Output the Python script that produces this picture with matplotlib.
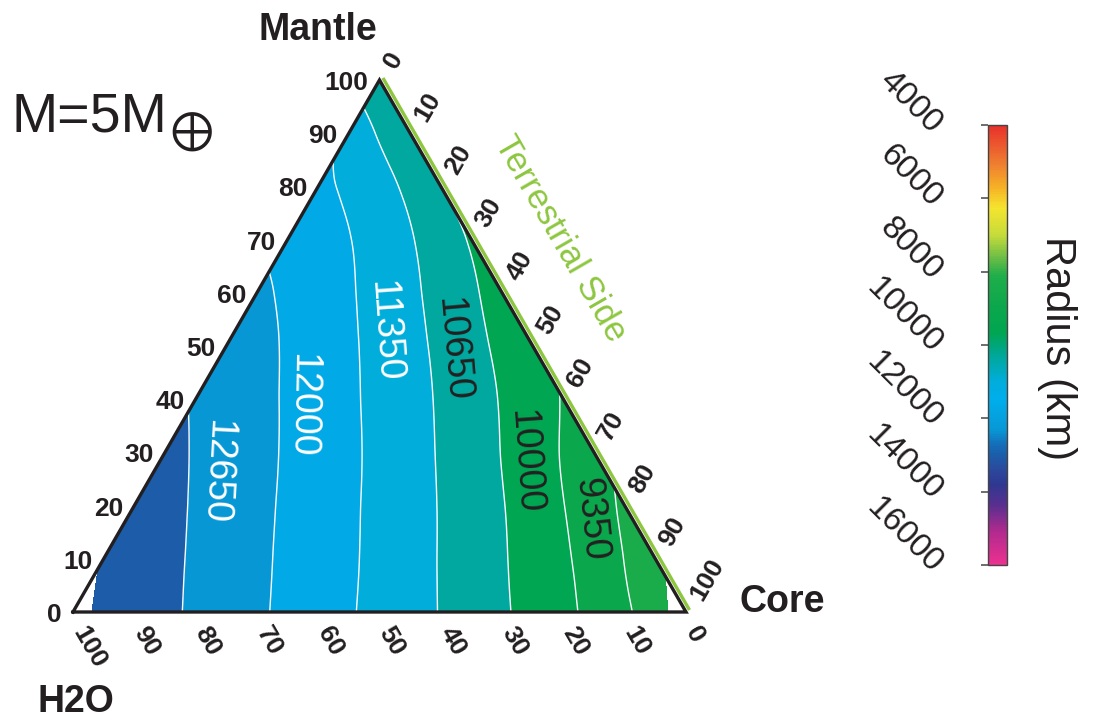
import numpy as np
import matplotlib
matplotlib.use("Agg")
import matplotlib.pyplot as plt
import matplotlib.tri as mtri
from matplotlib.colors import LinearSegmentedColormap, Normalize
from matplotlib.cm import ScalarMappable

plt.rcParams['font.family'] = ['Liberation Sans', 'DejaVu Sans']

# ---------------------------------------------------------------------------
# Data: planet radius (km) for a 5 Earth-mass planet on a ternary grid.
# Each row has a fixed mantle fraction; values run from core fraction 0
# upward in steps of 0.1 (the water fraction is what remains).
# ---------------------------------------------------------------------------
mantle_rows = [0.0, 0.1, 0.2, 0.3, 0.4, 0.5, 0.6, 0.7, 0.8, 0.9, 1.0]
radius_rows = [
    [13470, 13020, 12568, 12099, 11629, 11147, 10639, 10088, 9471, 8786, 7600],
    [13300, 12820, 12354, 11887, 11418, 10903, 10353, 9747, 9070, 8150],
    [13090, 12606, 12144, 11671, 11176, 10631, 10030, 9347, 8547],
    [12845, 12395, 11932, 11445, 10902, 10305, 9638, 8914],
    [12610, 12168, 11689, 11168, 10590, 9953, 9295],
    [12360, 11938, 11425, 10850, 10197, 9521],
    [12120, 11664, 11107, 10452, 9729],
    [11789, 11355, 10719, 9937],
    [11440, 10917, 10020],
    [11100, 10040],
    [10050],
]

# Colour scale of the radius (km)
radius_min, radius_max = 4000, 16000
cbar_ticks = [4000, 6000, 8000, 10000, 12000, 14000, 16000]
n_steps = 18                    # contour spacing = (max - min) / n_steps
filled_range = (6, 14)          # first / last level index that is filled
labelled_levels = [13, 12, 11, 10, 9, 8]

axis_ticks = list(range(0, 101, 10))
corner_names = ["H2O", "Core", "Mantle"]

cmap_stops = [
    (4000, "#e8312b"), (5000, "#ee7b30"), (5700, "#f6b226"), (6250, "#f5e52e"),
    (7000, "#c5db3b"), (7600, "#6dbd45"), (8100, "#1fae4b"), (9000, "#0ba74c"),
    (9667, "#00a651"), (10000, "#00a678"), (10333, "#00a89d"), (11000, "#00addb"),
    (11500, "#00aeec"), (11800, "#03a6e3"), (12333, "#0897d5"), (12700, "#1470ba"),
    (13000, "#1a5eaa"), (13400, "#2b4a9e"), (13800, "#2e3891"), (14400, "#5a2f8f"),
    (15100, "#b02a8e"), (16000, "#ec3190"),
]
cmap = LinearSegmentedColormap.from_list(
    "radius",
    [((v - radius_min) / (radius_max - radius_min), c) for v, c in cmap_stops])
norm = Normalize(radius_min, radius_max)

H = np.sqrt(3) / 2


def ternary_xy(core, mantle):
    """Cartesian position: H2O at (0,0), Core at (1,0), Mantle at the apex."""
    core = np.asarray(core, float)
    mantle = np.asarray(mantle, float)
    return core + mantle / 2, mantle * H


# ---------------------------------------------------------------------------
fig = plt.figure(figsize=(10.94, 7.2), dpi=100)
ax = fig.add_axes([73 / 1094, 108 / 720, 613 / 1094, 532 / 720])
ax.set_xlim(0, 1)
ax.set_ylim(0, H)
ax.axis("off")

cores, mantles, radii = [], [], []
for m, row in zip(mantle_rows, radius_rows):
    for k, r in enumerate(row):
        cores.append(k / 10)
        mantles.append(m)
        radii.append(r)
px, py = ternary_xy(cores, mantles)
tri = mtri.Triangulation(px, py)
tri_f, rad_f = mtri.UniformTriRefiner(tri).refine_field(np.array(radii, float), subdiv=4)

levels = np.linspace(radius_min, radius_max, n_steps + 1)
fill_levels = levels[filled_range[0]:filled_range[1] + 1]
ax.tricontourf(tri_f, rad_f, levels=fill_levels, cmap=cmap, norm=norm)
ax.tricontour(tri_f, rad_f, levels=fill_levels[1:-1], colors="white", linewidths=1.0)

# contour labels beside their lines
label_spots = {
    13: (0.2333, 0.2284, -93, "white"),
    12: (0.3736, 0.3370, -91, "white"),
    11: (0.5090, 0.4580, -86, "white"),
    10: (0.6200, 0.4274, -85, "#231f20"),
    9: (0.7374, 0.2447, -86, "#231f20"),
    8: (0.8450, 0.1500, -84, "#231f20"),
}
for idx in labelled_levels:
    x, y, rot, col = label_spots[idx]
    ax.text(x, y, f"{int(round(levels[idx] / 50) * 50)}", rotation=rot,
            rotation_mode="anchor", ha="center", va="center",
            fontsize=27, color=col)

# triangle frame and the terrestrial (water-free) side
green = "#8dc63f"
off = 4 / 613
ax.plot([0.5 + off * 0.866, 1 + off * 0.866], [H + off * 0.5, off * 0.5],
        color=green, lw=2.4, clip_on=False, solid_capstyle="butt")
ax.plot([0, 1, 0.5, 0], [0, 0, H, 0], color="#231f20", lw=2.4,
        clip_on=False, solid_joinstyle="miter")

tick_font = dict(fontsize=19, fontweight="bold", color="#231f20")
for t in axis_ticks:
    f = t / 100
    # Mantle axis (left edge)
    x, y = ternary_xy(0, f)
    ax.annotate(f"{t}", (x, y), xytext=(-11, -3), textcoords="offset pixels",
                ha="right", va="center", annotation_clip=False, **tick_font)
    # H2O axis (bottom edge)
    x, y = ternary_xy(1 - f, 0)
    ax.annotate(f"{t}", (x, y), xytext=(5, -17), textcoords="offset pixels",
                ha="left", va="center", rotation=-60, rotation_mode="anchor",
                annotation_clip=False, **tick_font)
    # Core axis (right edge)
    x, y = ternary_xy(f, 1 - f)
    ax.annotate(f"{t}", (x, y), xytext=(10, 14), textcoords="offset pixels",
                ha="left", va="center", rotation=60, rotation_mode="anchor",
                annotation_clip=False, **tick_font)

ax.text(0.795, 0.608, "Terrestrial Side", rotation=-60, rotation_mode="anchor",
        ha="center", va="center", fontsize=25, color=green)

corner_font = dict(fontsize=27, fontweight="bold", color="#231f20",
                   ha="center", va="center")
fig.text(76 / 1094, 1 - 702 / 720, corner_names[0], **corner_font)
fig.text(782 / 1094, 1 - 602 / 720, corner_names[1], **corner_font)
fig.text(318 / 1094, 1 - 30 / 720, corner_names[2], **corner_font)

fig.text(12 / 1094, 1 - 132 / 720, "M=5M", fontsize=40, color="#231f20",
         ha="left", va="baseline")
fig.text(191 / 1094, 1 - 131 / 720, r"$\oplus$", fontsize=38, color="#231f20",
         ha="center", va="center", math_fontfamily="stix")

# colour bar
cax = fig.add_axes([988 / 1094, 155 / 720, 19 / 1094, 440 / 720])
sm = ScalarMappable(norm=norm, cmap=cmap)
cb = fig.colorbar(sm, cax=cax, ticks=cbar_ticks)
cax.invert_yaxis()
cb.outline.set_edgecolor("#444444")
cb.outline.set_linewidth(1.0)
cax.yaxis.set_ticks_position("left")
cax.tick_params(axis="y", length=5, width=1.2, color="#555555",
                labelleft=False, labelright=False)
for v in cbar_ticks:
    cax.text(-2.68, v + 100, f"{v}", transform=cax.get_yaxis_transform(),
             rotation=-45, rotation_mode="anchor", ha="right", va="center",
             fontsize=24, color="#231f20")
fig.text(1057 / 1094, 1 - 348 / 720, "Radius (km)", rotation=-90,
         ha="center", va="center", fontsize=30, color="#231f20")

fig.savefig("out.png", dpi=100)
